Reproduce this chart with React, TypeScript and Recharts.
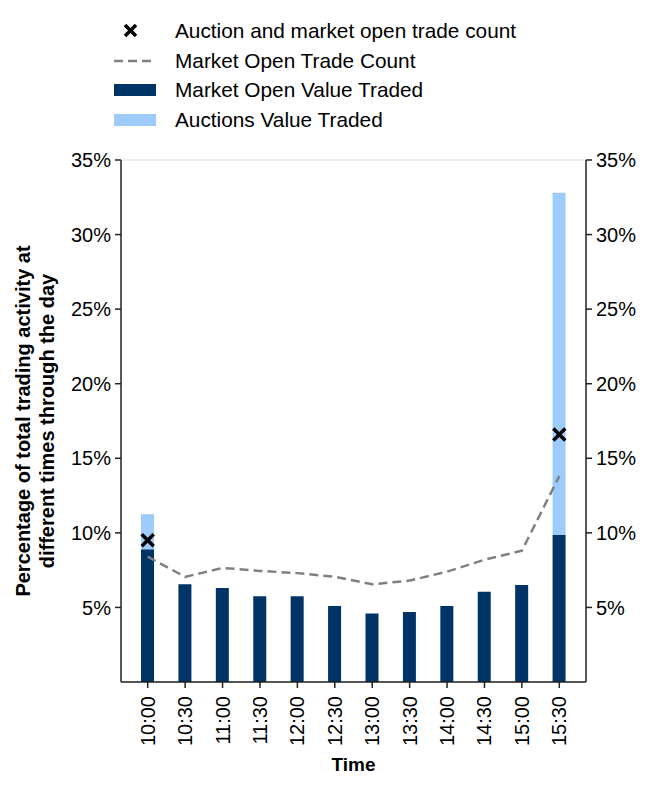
import React from 'react';
import {
  ComposedChart,
  Bar,
  Line,
  Scatter,
  XAxis,
  YAxis,
  CartesianGrid,
  Legend,
} from 'recharts';

const times = ['10:00', '10:30', '11:00', '11:30', '12:00', '12:30', '13:00', '13:30', '14:00', '14:30', '15:00', '15:30'];
const marketOpenValue = [8.9, 6.55, 6.3, 5.75, 5.75, 5.1, 4.6, 4.7, 5.1, 6.05, 6.5, 9.85];
const auctionValue = [2.35, 0, 0, 0, 0, 0, 0, 0, 0, 0, 0, 22.95];
const marketOpenCount = [8.4, 7.05, 7.65, 7.45, 7.3, 7.05, 6.55, 6.8, 7.4, 8.2, 8.8, 13.8];
const combinedCount = [9.5, null, null, null, null, null, null, null, null, null, null, 16.6];
const yTicks = [5, 10, 15, 20, 25, 30, 35];

const FONT = '"Liberation Sans", Arial, sans-serif';
const FS = 20;
const DARK = '#003366';
const LIGHT = '#9ccbfc';
const AXIS = '#222222';

const data = times.map((t, i) => ({
  time: t,
  marketOpen: marketOpenValue[i],
  auctions: auctionValue[i],
  openCount: marketOpenCount[i],
  cross: combinedCount[i],
}));

const Cross = (props: any) => {
  const { cx, cy, payload } = props;
  if (cx == null || cy == null || payload?.cross == null) return <g />;
  const s = 6;
  return (
    <g stroke="#000" strokeWidth={3.5}>
      <line x1={cx - s} y1={cy - s} x2={cx + s} y2={cy + s} />
      <line x1={cx - s} y1={cy + s} x2={cx + s} y2={cy - s} />
    </g>
  );
};

const TimeTick = (props: any) => {
  const { x, y, payload } = props;
  const ty = y + 6;
  return (
    <text
      x={x}
      y={ty}
      transform={`rotate(-90, ${x}, ${ty})`}
      textAnchor="end"
      dominantBaseline="central"
      fontSize={FS}
      fontFamily={FONT}
      fill="#000"
    >
      {payload.value}
    </text>
  );
};

const legendItems = [
  { label: 'Auction and market open trade count', kind: 'cross' },
  { label: 'Market Open Trade Count', kind: 'dash' },
  { label: 'Market Open Value Traded', kind: 'dark' },
  { label: 'Auctions Value Traded', kind: 'light' },
];

const LegendContent = () => (
  <div style={{ fontFamily: FONT, fontSize: 20.8, color: '#000' }}>
    {legendItems.map((it) => (
      <div key={it.label} style={{ display: 'flex', alignItems: 'center', height: 29.7 }}>
        <svg width={61} height={20} style={{ flex: 'none' }}>
          {it.kind === 'cross' && (
            <g stroke="#000" strokeWidth={3.5}>
              <line x1={11} y1={4} x2={22} y2={15} />
              <line x1={11} y1={15} x2={22} y2={4} />
            </g>
          )}
          {it.kind === 'dash' && (
            <line x1={0} y1={10} x2={42} y2={10} stroke="#808080" strokeWidth={2.5} strokeDasharray="9 5" />
          )}
          {it.kind === 'dark' && <rect x={0} y={4} width={42} height={12} fill={DARK} />}
          {it.kind === 'light' && <rect x={0} y={4} width={42} height={12} fill={LIGHT} />}
        </svg>
        <span>{it.label}</span>
      </div>
    ))}
  </div>
);

const YLabel = () => (
  <text
    transform="rotate(-90, 34, 421)"
    x={34}
    y={421}
    textAnchor="middle"
    fontSize={FS}
    fontWeight="bold"
    fontFamily={FONT}
    fill="#000"
  >
    <tspan x={34} dy={-4}>Percentage of total trading activity at</tspan>
    <tspan x={34} dy={24}>different times through the day</tspan>
  </text>
);

export default function App() {
  const tickStyle = { fontSize: FS, fontFamily: FONT, fill: '#000' };
  return (
    <div style={{ width: 657, height: 789, background: '#fff' }}>
      <style>{'body{margin:0}'}</style>
      <ComposedChart
        width={657}
        height={789}
        data={data}
        margin={{ top: 160, right: 11, bottom: 7, left: 61 }}
      >
        <CartesianGrid vertical={false} stroke="#dddddd" strokeWidth={1.2} />
        <XAxis
          dataKey="time"
          padding={{ left: 8, right: 8 }}
          height={100}
          interval={0}
          tick={<TimeTick />}
          tickSize={6}
          axisLine={{ stroke: AXIS, strokeWidth: 1.5 }}
          tickLine={{ stroke: AXIS, strokeWidth: 1.5 }}
          label={{ value: 'Time', position: 'insideBottom', offset: 11, fontSize: 19, fontWeight: 'bold', fontFamily: FONT, fill: '#000' }}
        />
        <YAxis
          yAxisId="left"
          width={60}
          domain={[0, 35]}
          ticks={yTicks}
          allowDataOverflow
          tickFormatter={(v) => `${v}%`}
          tick={tickStyle}
          tickSize={6}
          tickMargin={4}
          axisLine={{ stroke: AXIS, strokeWidth: 1.5 }}
          tickLine={{ stroke: AXIS, strokeWidth: 1.5 }}
          label={{ content: () => <YLabel /> }}
        />
        <YAxis
          yAxisId="right"
          orientation="right"
          width={60}
          domain={[0, 35]}
          ticks={yTicks}
          allowDataOverflow
          tickFormatter={(v) => `${v}%`}
          tick={tickStyle}
          tickSize={6}
          tickMargin={4}
          axisLine={{ stroke: AXIS, strokeWidth: 1.5 }}
          tickLine={{ stroke: AXIS, strokeWidth: 1.5 }}
        />
        <Legend
          layout="vertical"
          align="center"
          verticalAlign="middle"
          wrapperStyle={{ top: 16, left: 114, width: 520 }}
          content={<LegendContent />}
        />
        <Bar yAxisId="left" dataKey="marketOpen" stackId="v" fill={DARK} barSize={13} isAnimationActive={false} />
        <Bar yAxisId="left" dataKey="auctions" stackId="v" fill={LIGHT} barSize={13} isAnimationActive={false} />
        <Line
          yAxisId="left"
          dataKey="openCount"
          stroke="#808080"
          strokeWidth={2.5}
          strokeDasharray="9 5"
          dot={false}
          isAnimationActive={false}
        />
        <Scatter yAxisId="left" dataKey="cross" shape={<Cross />} isAnimationActive={false} />
      </ComposedChart>
    </div>
  );
}
